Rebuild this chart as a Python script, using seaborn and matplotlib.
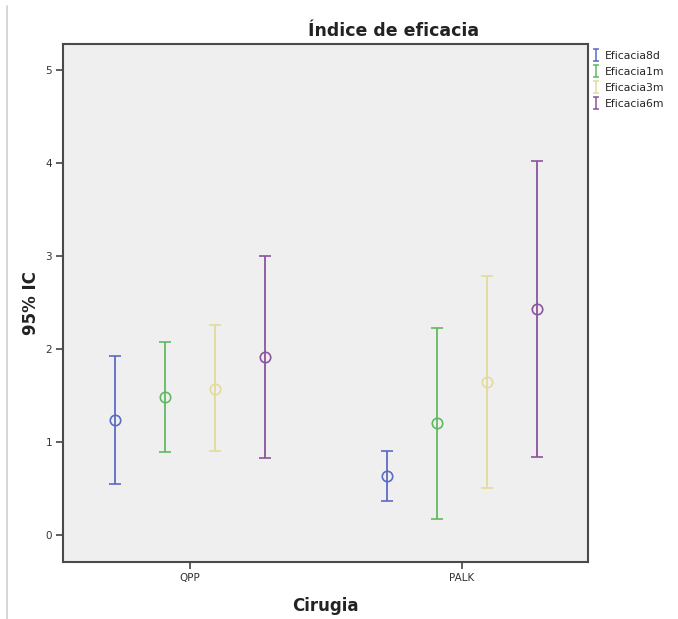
import numpy as np
import pandas as pd
import seaborn as sns
import matplotlib.pyplot as plt
from matplotlib.lines import Line2D
from matplotlib.path import Path

# Data: mean efficacy index with 95% CI bounds per surgery and follow-up time
cirugia = ["QPP", "PALK"]
series = ["Eficacia8d", "Eficacia1m", "Eficacia3m", "Eficacia6m"]
media = {
    "Eficacia8d": [1.24, 0.63],
    "Eficacia1m": [1.48, 1.20],
    "Eficacia3m": [1.57, 1.65],
    "Eficacia6m": [1.91, 2.43],
}
ic_inf = {
    "Eficacia8d": [0.55, 0.37],
    "Eficacia1m": [0.89, 0.17],
    "Eficacia3m": [0.90, 0.51],
    "Eficacia6m": [0.83, 0.84],
}
ic_sup = {
    "Eficacia8d": [1.92, 0.90],
    "Eficacia1m": [2.08, 2.23],
    "Eficacia3m": [2.26, 2.79],
    "Eficacia6m": [3.00, 4.02],
}
yticks = [0, 1, 2, 3, 4, 5]

colores = ["#5b6cc4", "#62b862", "#e2dc9c", "#8a559e"]

sns.set_theme(style="white")
plt.rcParams["font.family"] = ["DejaVu Sans"]

rows = []
for s in series:
    for i, c in enumerate(cirugia):
        rows.append({"Cirugia": c, "serie": s, "media": media[s][i],
                     "inf": ic_inf[s][i], "sup": ic_sup[s][i]})
df = pd.DataFrame(rows)

fig = plt.figure(figsize=(6.78, 6.19), dpi=100)
ax = fig.add_axes([0.093, 0.092, 0.774, 0.837])
ax.set_facecolor("#efefef")

offsets = np.array([-1.5, -0.5, 0.5, 1.5]) * 0.184
pos = {c: i for i, c in enumerate(cirugia)}
for k, (s, col) in enumerate(zip(series, colores)):
    sub = df[df["serie"] == s]
    x = sub["Cirugia"].map(pos).to_numpy() + offsets[k]
    y = sub["media"].to_numpy()
    err = np.vstack([y - sub["inf"].to_numpy(), sub["sup"].to_numpy() - y])
    ax.errorbar(x, y, yerr=err, fmt="o", color=col, mfc="none", mec=col,
                ms=7.5, mew=1.2, elinewidth=1.3, capsize=4.5, capthick=1.3)

ax.set_xlim(-0.467, 1.463)
ax.set_ylim(-0.29, 5.28)
ax.set_xticks(range(len(cirugia)))
ax.set_xticklabels(cirugia)
ax.set_yticks(yticks)
ax.tick_params(axis="both", which="both", length=5, width=1.2, color="#444444",
               labelsize=7.5, labelcolor="#333333", bottom=True, left=True, pad=3)
for sp in ax.spines.values():
    sp.set_color("#4a4a4a")
    sp.set_linewidth(1.5)

ax.set_title("Índice de eficacia", fontsize=12.5, fontweight="bold", color="#222222",
             pad=6, x=0.63)
ax.set_xlabel("Cirugia", fontsize=12, fontweight="bold", color="#222222", labelpad=10)
ax.set_ylabel("95% IC", fontsize=12, fontweight="bold", color="#222222", labelpad=4)

# Small error-bar glyph for the legend entries
ibar = Path([(-0.45, 1), (0.45, 1), (0, 1), (0, -1), (-0.45, -1), (0.45, -1)],
            [Path.MOVETO, Path.LINETO, Path.MOVETO, Path.LINETO,
             Path.MOVETO, Path.LINETO])
handles = [Line2D([], [], linestyle="none", marker=ibar, color=c, mfc="none",
                  mec=c, mew=1.1, markersize=9) for c in colores]
fig.legend(handles, series, loc="upper left", bbox_to_anchor=(0.866, 0.925),
           frameon=False, fontsize=7.8, handlelength=0.8, handletextpad=0.4,
           labelspacing=0.55, borderaxespad=0)

fig.add_artist(Line2D([0.011, 0.011], [0.0, 0.99], transform=fig.transFigure,
                      color="#cfcfcf", lw=1.2))

fig.savefig("out.png", dpi=100, facecolor="white")
